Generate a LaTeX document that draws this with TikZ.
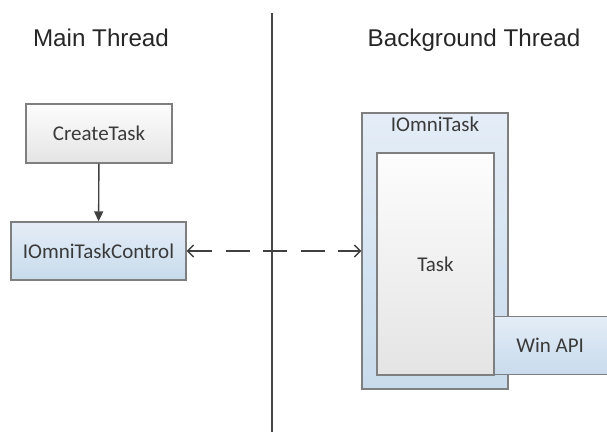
\documentclass[tikz,border=0pt]{standalone}
\usepackage{fontspec}
\setmainfont{Liberation Sans}
\newfontfamily\boxfont{Carlito}
\usetikzlibrary{arrows.meta}
\definecolor{edge}{HTML}{7F7F7F}
\definecolor{ink}{HTML}{3A3A3A}
\definecolor{bluetop}{HTML}{E4EDF7}
\definecolor{bluebot}{HTML}{C8DBEC}
\definecolor{greytop}{HTML}{FDFDFD}
\definecolor{greybot}{HTML}{E4E4E4}
\tikzset{
  title/.style={font=\fontsize{24.2}{28}\selectfont, text=black!85, anchor=base, inner sep=0pt},
  box/.style={draw=edge, line width=1.3pt, inner sep=0pt, font=\boxfont\fontsize{21}{25}\selectfont, text=ink},
  greybox/.style={box, top color=greytop, bottom color=greybot},
  bluebox/.style={box, top color=bluetop, bottom color=bluebot},
  divider/.style={draw=black!72, line width=2.2pt},
  link/.style={draw=black!75, line width=1.4pt},
}
\begin{document}
\begin{tikzpicture}[x=1pt,y=-1pt]
\useasboundingbox (0,0) rectangle (607,432);

% thread separator
\coordinate (divtop) at (272,13);
\coordinate (divbot) at (272,432);
\draw[divider] (divtop) -- (divbot);

% headings
\node[title] (mainhead) at (101,46) {Main Thread};
\node[title] (bghead) at (474,46) {Background Thread};

% main thread side
\node[greybox, minimum width=146pt, minimum height=59pt] (create) at (99,133.5) {CreateTask};
\node[bluebox, minimum width=175pt, minimum height=58pt] (control) at (98.5,251) {IOmniTaskControl};

% background thread side
\node[bluebox, minimum width=146pt, minimum height=276pt] (omnitask) at (435,251) {};
\node[box, draw=none, anchor=north] (omnilabel) at ([yshift=-4pt]omnitask.north) {IOmniTask};
\node[bluebox, minimum width=113pt, minimum height=58pt, anchor=south west] (winapi) at (494,375) {\hspace*{-2pt}Win API};
\node[greybox, minimum width=117pt, minimum height=222pt] (task) at (435.5,264) {Task};

% connectors
\draw[link, -{Triangle[length=10pt,width=9pt]}] (create) -- (control);
\draw[link, dash pattern=on 24pt off 13.5pt,
      {Straight Barb[length=6pt,width=12pt]}-{Straight Barb[length=6pt,width=12pt]}]
  (control.east) -- (control.east -| omnitask.west);
\end{tikzpicture}
\end{document}
